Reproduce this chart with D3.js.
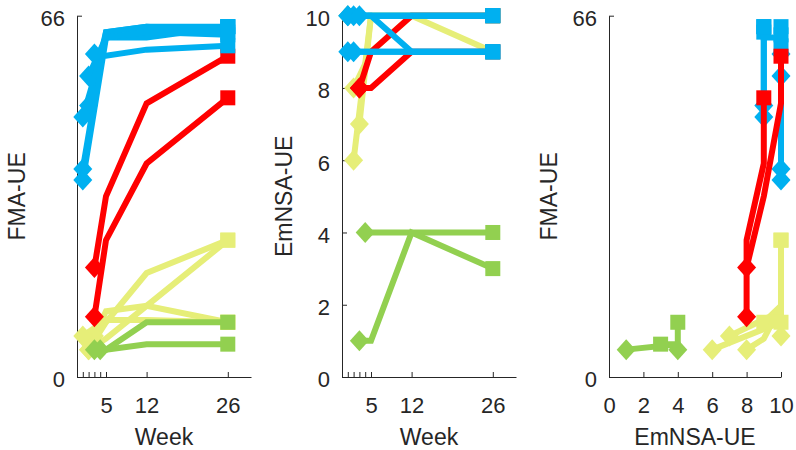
<!DOCTYPE html>
<html><head><meta charset="utf-8">
<script src="https://cdn.jsdelivr.net/npm/d3@7/dist/d3.min.js"></script>
<style>body{margin:0;background:#fff}text{font-family:"Liberation Sans",Arial,Helvetica,sans-serif;fill:#262626}</style>
</head><body><svg id="c" width="796" height="450"></svg>
<script>
// ---- data ----
const subjectIds    = ["Y1","Y2","Y3","Y4","G1","G2","B1","B2","B3","B4","B5","B6","R1","R2"];
const subjectGroup  = ["severe","severe","severe","severe","vsevere","vsevere","mild","mild","mild","mild","mild","mild","moderate","moderate"];
const subjectWeeks  = [[2,5,12,26],[3,5,12,26],[2,5,12,26],[1,5,12,26],[4,5,12,26],[3,5,12,26],
                       [2,5,12,26],[2,5,12,26],[1,5,12,26],[1,5,12,26],[1,5,12,26],[3,5,12,26],[3,5,12,26],[3,5,12,26]];
const subjectFMA    = [[5,10,19,25],[7.5,12,13,10],[5,7,13,25],[7.5,10.4,10.4,10],[5,5,10,10],[5,5,6,6],
                       [55,62,62,64],[49.6,63,64,63],[47.5,62,63,64],[38,63,64,64],[36,62,63,62.5],[59,58.7,59.8,60.5],[20,33,50,58.6],[11,25,39,51]];
const subjectEmNSA  = [[6,10,10,10],[7,10,10,9],[8,9,10,10],[10,10,10,10],[4,4,4,4],[1,1,4,3],
                       [10,10,9,9],[9,9,9,9],[9,9,9,9],[10,10,10,10],[10,10,10,10],[10,10,10,10],[8,9,10,10],[8,8,9,9]];
const weekTicks      = [1,2,3,4,5,12,26];
const weekTickLabels = ["","","","","5","12","26"];
const fmaTicks       = [0,66];
const emnsaTicks     = [0,2,4,6,8,10];
const emnsaXTicks    = [0,2,4,6,8,10];

// ---- styles ----
const groupColor = {mild:"#00B0F0", moderate:"#FF0000", severe:"#E6EE78", vsevere:"#92D050"};
const orderTime  = ["Y1","Y2","Y3","Y4","G1","G2","R1","R2","B1","B2","B3","B4","B5","B6"];
const orderCross = ["Y1","Y2","Y3","Y4","G1","G2","B1","B2","B3","B4","B5","B6","R1","R2"];
const svg = d3.select("#c");
const yTop = 15.7, yBot = 377;

const subjects = subjectIds.map((id,i)=>({id, group:subjectGroup[i],
  pts: subjectWeeks[i].map((w,j)=>({week:w, fma:subjectFMA[i][j], emnsa:subjectEmNSA[i][j]}))}));
const byId = Object.fromEntries(subjects.map(s=>[s.id,s]));

const panels = [
  {x0:77, x1:251, xdom:[0,30], ydom:[0,66], xk:"week", yk:"fma", xt:weekTicks, xl:weekTickLabels, yt:fmaTicks, xTitle:"Week", yTitle:"FMA-UE", yTitleX:25, order:orderTime},
  {x0:342, x1:516, xdom:[0,30], ydom:[0,10], xk:"week", yk:"emnsa", xt:weekTicks, xl:weekTickLabels, yt:emnsaTicks, xTitle:"Week", yTitle:"EmNSA-UE", yTitleX:292, order:orderTime},
  {x0:609, x1:781, xdom:[0,10], ydom:[0,66], xk:"emnsa", yk:"fma", xt:emnsaXTicks, xl:null, yt:fmaTicks, xTitle:"EmNSA-UE", yTitle:"FMA-UE", yTitleX:557, order:orderCross}
];

const dH = 9.5, dV = 10.5, sq = 15;
panels.forEach(p=>{
  const x = d3.scaleLinear().domain(p.xdom).range([p.x0,p.x1]);
  const y = d3.scaleLinear().domain(p.ydom).range([yBot,yTop]);
  const g = svg.append("g");
  const ax = d3.axisBottom(x).tickValues(p.xt).tickSizeInner(-5).tickSizeOuter(0).tickPadding(20)
     .tickFormat((d,i)=> p.xl ? p.xl[i] : d3.format("d")(d));
  const ay = d3.axisLeft(y).tickValues(p.yt).tickSizeInner(-5).tickSizeOuter(0).tickPadding(12);
  const gx = g.append("g").attr("transform",`translate(0,${yBot})`).call(ax);
  const gy = g.append("g").attr("transform",`translate(${p.x0},0)`).call(ay);
  [gx,gy].forEach(a=>{
    a.selectAll("path,line").attr("stroke","#262626").attr("stroke-width",1);
    a.selectAll("text").attr("font-size",22).attr("fill","#262626").style("font-family",'"Liberation Sans",Arial,sans-serif');
  });
  gy.selectAll("text").attr("dy","0.45em");
  g.append("text").attr("x",(p.x0+p.x1)/2).attr("y",445).attr("text-anchor","middle").attr("font-size",23).text(p.xTitle);
  g.append("text").attr("transform",`translate(${p.yTitleX},${(yTop+yBot)/2}) rotate(-90)`).attr("text-anchor","middle").attr("font-size",23).text(p.yTitle);
  const line = d3.line().x(d=>x(d[p.xk])).y(d=>y(d[p.yk]));
  p.order.forEach(id=>{
    const s = byId[id];
    const c = groupColor[s.group];
    const sg = g.append("g");
    sg.append("path").attr("d",line(s.pts)).attr("fill","none").attr("stroke",c).attr("stroke-width",6);
    const f = s.pts[0], l = s.pts[s.pts.length-1];
    const fx = x(f[p.xk]), fy = y(f[p.yk]);
    sg.append("path").attr("d",`M${fx},${fy-dV}L${fx+dH},${fy}L${fx},${fy+dV}L${fx-dH},${fy}Z`).attr("fill",c);
    sg.append("rect").attr("x",x(l[p.xk])-sq/2).attr("y",y(l[p.yk])-sq/2).attr("width",sq).attr("height",sq).attr("fill",c);
  });
});
</script></body></html>
